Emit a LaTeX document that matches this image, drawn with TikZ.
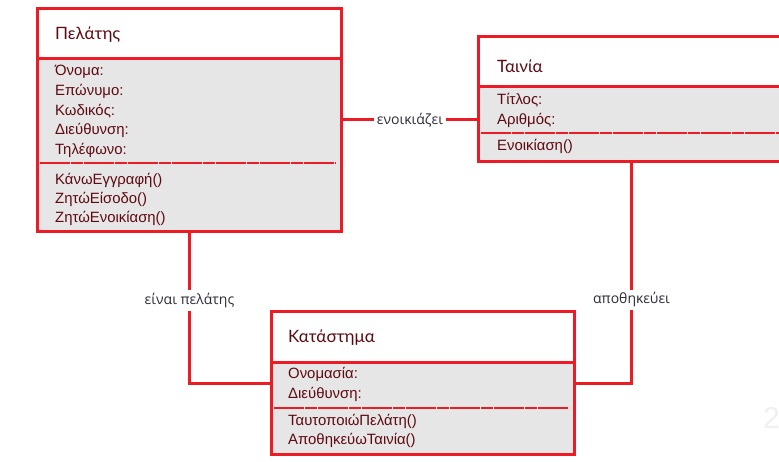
\documentclass[tikz,border=0pt]{standalone}
\usepackage{fontspec}
\setmainfont{Liberation Sans}
\newfontfamily\titlefont{Lato}
\newfontfamily\labelfont{Open Sans}
\definecolor{umlred}{HTML}{ED1C24}
\definecolor{umltext}{HTML}{5E0A12}
\definecolor{umlgray}{HTML}{E6E6E6}
\definecolor{lblcol}{HTML}{2B2B3A}
\begin{document}
\begin{tikzpicture}[x=1pt,y=-1pt,
  boxframe/.style={draw=umlred, line width=3pt, rectangle, inner sep=0pt, anchor=north west},
  attr/.style={anchor=west, text=umltext, font=\fontsize{14.9}{16}\selectfont, inner sep=0pt},
  ctitle/.style={anchor=west, text=umltext, font=\titlefont\fontsize{17}{19}\selectfont, inner sep=0pt},
  sepline/.style={draw=umlred, line width=2.5pt, dash pattern=on 30pt off 1pt on 12pt off 1pt},
  solidsep/.style={draw=umlred, line width=3pt},
  link/.style={draw=umlred, line width=3pt},
  lbl/.style={fill=white, text=lblcol, font=\labelfont\fontsize{14}{16}\selectfont, inner sep=3pt}]
\useasboundingbox (0,0) rectangle (779,462);
\fill[white] (0,0) rectangle (779,462);

% slide number
\node[anchor=west, text=black!6, font=\fontsize{30}{32}\selectfont, inner sep=0pt] (pnum) at (763,418) {2};

% Pelatis
\fill[umlgray] (36,59) rectangle (340,230);
\node[boxframe, minimum width=304pt, minimum height=223pt] (pel) at (36,7) {};
\draw[solidsep] (36,59) -- (340,59);
\draw[sepline] (40,163) -- (336,163);
\node[ctitle] (peltitle) at (55,35) {Πελάτης};
\node[attr] (p1) at (55,72) {Όνομα:};
\node[attr] (p2) at (55,91) {Επώνυμο:};
\node[attr] (p3) at (55,111) {Κωδικός:};
\node[attr] (p4) at (55,130) {Διεύθυνση:};
\node[attr] (p5) at (55,150) {Τηλέφωνο:};
\node[attr] (p6) at (55,180) {ΚάνωΕγγραφή()};
\node[attr] (p7) at (55,199) {ΖητώΕίσοδο()};
\node[attr] (p8) at (55,218) {ΖητώΕνοικίαση()};

% Tainia
\fill[umlgray] (477,87) rectangle (783,160);
\node[boxframe, minimum width=306pt, minimum height=125pt] (tai) at (477,35) {};
\draw[solidsep] (477,87) -- (783,87);
\draw[sepline] (481,133) -- (783,133);
\node[ctitle] (taititle) at (497,66) {Ταινία};
\node[attr] (t1) at (497,100) {Τίτλος:};
\node[attr] (t2) at (497,120) {Αριθμός:};
\node[attr] (t3) at (497,146) {Ενοικίαση()};

% Katastima
\fill[umlgray] (270,362) rectangle (573,453);
\node[boxframe, minimum width=303pt, minimum height=143pt] (kat) at (270,310) {};
\draw[solidsep] (270,362) -- (573,362);
\draw[sepline] (274,408) -- (569,408);
\node[ctitle] (kattitle) at (288,338) {Κατάστημα};
\node[attr] (k1) at (288,374) {Ονομασία:};
\node[attr] (k2) at (288,394) {Διεύθυνση:};
\node[attr] (k3) at (288,421) {ΤαυτοποιώΠελάτη()};
\node[attr] (k4) at (288,440) {ΑποθηκεύωΤαινία()};

% connectors
\draw[link] (pel.east) -- node[lbl] {ενοικιάζει} (pel.east -| tai.west);
\draw[link] (pel.south) |- node[lbl, pos=0.224] {είναι πελάτης} (kat.west);
\draw[link] (tai.south) |- node[lbl, pos=0.311] {αποθηκεύει} (kat.east);
\end{tikzpicture}
\end{document}
